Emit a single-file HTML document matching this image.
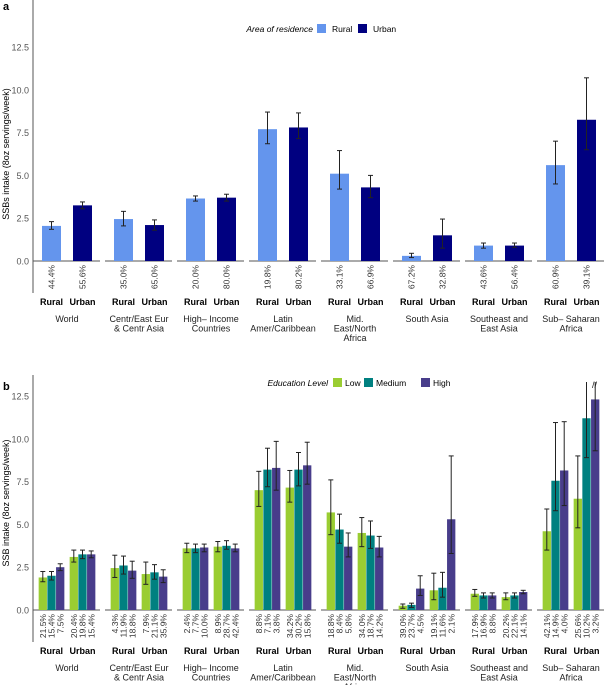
<!DOCTYPE html>
<html><head><meta charset="utf-8"><style>
body{margin:0;background:#fff;}
svg{display:block;font-family:"Liberation Sans",sans-serif;}
</style></head><body>
<svg id="c" width="606" height="685" xmlns="http://www.w3.org/2000/svg"></svg>
<script>
const regions=[["World"],["Centr/East Eur","& Centr Asia"],["High\u2013 Income","Countries"],["Latin","Amer/Caribbean"],["Mid.","East/North","Africa"],["South Asia"],["Southeast and","East Asia"],["Sub\u2013 Saharan","Africa"]];
const ticks=[0,2.5,5,7.5,10,12.5];
// Panel a: [rural, urban]
const aVal=[[2.05,3.25],[2.45,2.1],[3.65,3.7],[7.7,7.8],[5.1,4.3],[0.3,1.5],[0.9,0.9],[5.6,8.25]];
const aLo=[[1.85,3.05],[2.05,1.8],[3.5,3.5],[6.85,7.15],[4.2,3.7],[0.2,0.75],[0.75,0.8],[4.5,6.5]];
const aHi=[[2.3,3.45],[2.9,2.4],[3.8,3.9],[8.7,8.65],[6.45,5.0],[0.45,2.45],[1.05,1.05],[7.0,10.7]];
const aPct=[["44.4%","55.6%"],["35.0%","65.0%"],["20.0%","80.0%"],["19.8%","80.2%"],["33.1%","66.9%"],["67.2%","32.8%"],["43.6%","56.4%"],["60.9%","39.1%"]];
// Panel b: [rural low,med,high, urban low,med,high]
const bVal=[[1.9,2.0,2.5,3.1,3.25,3.25],[2.45,2.6,2.3,2.1,2.2,1.95],[3.6,3.6,3.65,3.7,3.75,3.6],[7.0,8.2,8.3,7.15,8.2,8.45],[5.7,4.7,3.7,4.5,4.35,3.65],[0.25,0.3,1.25,1.15,1.3,5.3],[0.95,0.85,0.85,0.75,0.85,1.05],[4.6,7.55,8.15,6.5,11.2,12.3]];
const bLo=[[1.65,1.75,2.3,2.8,3.0,3.05],[1.9,2.1,1.85,1.5,1.8,1.6],[3.35,3.35,3.4,3.4,3.55,3.4],[6.05,7.2,7.0,6.3,7.25,7.35],[4.4,3.9,3.1,3.7,3.6,3.1],[0.1,0.15,0.85,0.6,0.75,3.3],[0.8,0.7,0.7,0.6,0.7,0.95],[3.5,5.8,6.1,4.8,8.9,9.3]];
const bHi=[[2.25,2.25,2.7,3.5,3.5,3.45],[3.2,3.15,2.85,2.8,2.65,2.35],[3.9,3.85,3.85,4.0,4.05,3.85],[8.1,9.45,9.85,8.15,9.2,9.8],[7.6,5.6,4.5,5.4,5.2,4.3],[0.35,0.4,2.0,2.15,2.2,9.0],[1.2,1.0,1.0,1.0,1.0,1.15],[5.9,10.95,11.0,9.0,13.6,13.6]];
const bPct=[["21.5%","15.4%","7.5%","20.4%","19.8%","15.4%"],["4.3%","11.9%","18.8%","7.9%","21.1%","35.9%"],["2.4%","7.7%","10.0%","8.9%","28.7%","42.4%"],["8.8%","7.1%","3.8%","34.2%","30.2%","15.8%"],["18.8%","8.4%","5.8%","34.0%","18.7%","14.2%"],["39.0%","23.7%","4.5%","19.1%","11.6%","2.1%"],["17.9%","16.9%","8.8%","20.2%","22.1%","14.1%"],["42.1%","14.9%","4.0%","25.6%","10.2%","3.2%"]];
const aCols=["#6495ed","#000080"], bCols=["#9acd32","#008080","#483d8b"];
const svg=document.getElementById('c');
const NS="http://www.w3.org/2000/svg";
function mk(t,a,txt){const e=document.createElementNS(NS,t);for(const k in a)e.setAttribute(k,a[k]);if(txt!==undefined)e.textContent=txt;svg.appendChild(e);return e;}
const fx=i=>33+72*i;
function panel(y0,top,bottom,label,yTitle){
  const ya=v=>y0-v*(42.8/2.5);
  let e=mk('text',{x:3,y:top+10,'font-size':11,'font-weight':'bold'},label);
  
  e=mk('line',{x1:33,x2:33,y1:top-5,y2:bottom,stroke:'#aaa','stroke-width':2});
  
  ticks.forEach(t=>{const tt=mk('text',{x:29,y:ya(t)+3.5,'font-size':9,fill:'#555','text-anchor':'end'},t.toFixed(1));
    });
  e=mk('text',{transform:`translate(9,${ya(6.25)}) rotate(-90)`,'font-size':9,'text-anchor':'middle'},yTitle);
  
  regions.forEach((r,i)=>{
    const l=mk('line',{x1:fx(i),x2:fx(i)+67,y1:y0,y2:y0,stroke:'#555','stroke-width':1});
    
    ['Rural','Urban'].forEach((g,j)=>{const t=mk('text',{x:fx(i)+18.5+31*j,y:y0+44,'font-size':9,'font-weight':'bold','text-anchor':'middle'},g);
      });
    r.forEach((s,k)=>{const t=mk('text',{x:fx(i)+34,y:y0+61+k*9.5,'font-size':9,fill:'#222','text-anchor':'middle'},s);
      });
  });
  return ya;
}
function bar(x,w,v,lo,hi,col,ya,y0,pct,name){
  let r=mk('rect',{x:x-w/2,y:ya(v),width:w,height:y0-ya(v),fill:col});
  
  const top=Math.max(ya(hi),380-(y0>400?0:1000));
  let l=mk('line',{x1:x,x2:x,y1:Math.max(ya(hi),y0>400?382:0),y2:ya(lo),stroke:'#222','stroke-width':1});
  
  if(ya(hi)>=(y0>400?382:0)){const c=mk('line',{x1:x-2.5,x2:x+2.5,y1:ya(hi),y2:ya(hi),stroke:'#222'});}
  const c2=mk('line',{x1:x-2.5,x2:x+2.5,y1:ya(lo),y2:ya(lo),stroke:'#222'});
  const t=mk('text',{transform:`translate(${x+3.2},${y0+4}) rotate(-90)`,'font-size':8.5,fill:'#333','text-anchor':'end'},pct);
  
}
// Panel a
const y0a=261;
const yaA=panel(y0a,0,293,'a','SSBs intake (8oz servings/week)');
aVal.forEach((p,i)=>p.forEach((v,j)=>bar(fx(i)+18.5+31*j,19,v,aLo[i][j],aHi[i][j],aCols[j],yaA,y0a,aPct[i][j],'bar-'+(j?'urban':'rural'))));
// legend a
let e=mk('text',{x:313,y:32,'font-size':8.5,'font-style':'italic','text-anchor':'end'},'Area of residence');

[['Rural',317],['Urban',358]].forEach(([n,x],j)=>{let r=mk('rect',{x:x,y:24,width:9,height:9,fill:aCols[j]});
  let t=mk('text',{x:x+15,y:32,'font-size':8.5},n);});
// Panel b
const y0b=610;
const yaB=panel(y0b,380,642,'b','SSB intake (8oz servings/week)');
bVal.forEach((p,i)=>p.forEach((v,j)=>{const g=Math.floor(j/3),k=j%3;
  bar(fx(i)+18.5+31*g+(k-1)*8.7,8.3,v,bLo[i][j],bHi[i][j],bCols[k],yaB,y0b,bPct[i][j],'bar-'+['low','medium','high'][k]);}));
e=mk('text',{x:592,y:388,'font-size':9,fill:'#222'},'//');

e=mk('text',{x:328,y:386,'font-size':8.5,'font-style':'italic','text-anchor':'end'},'Education Level');

[['Low',333],['Medium',364],['High',421]].forEach(([n,x],j)=>{let r=mk('rect',{x:x,y:378,width:9,height:9,fill:bCols[j]});
  let t=mk('text',{x:x+12,y:386,'font-size':8.5},n);});
</script>
</body></html>
